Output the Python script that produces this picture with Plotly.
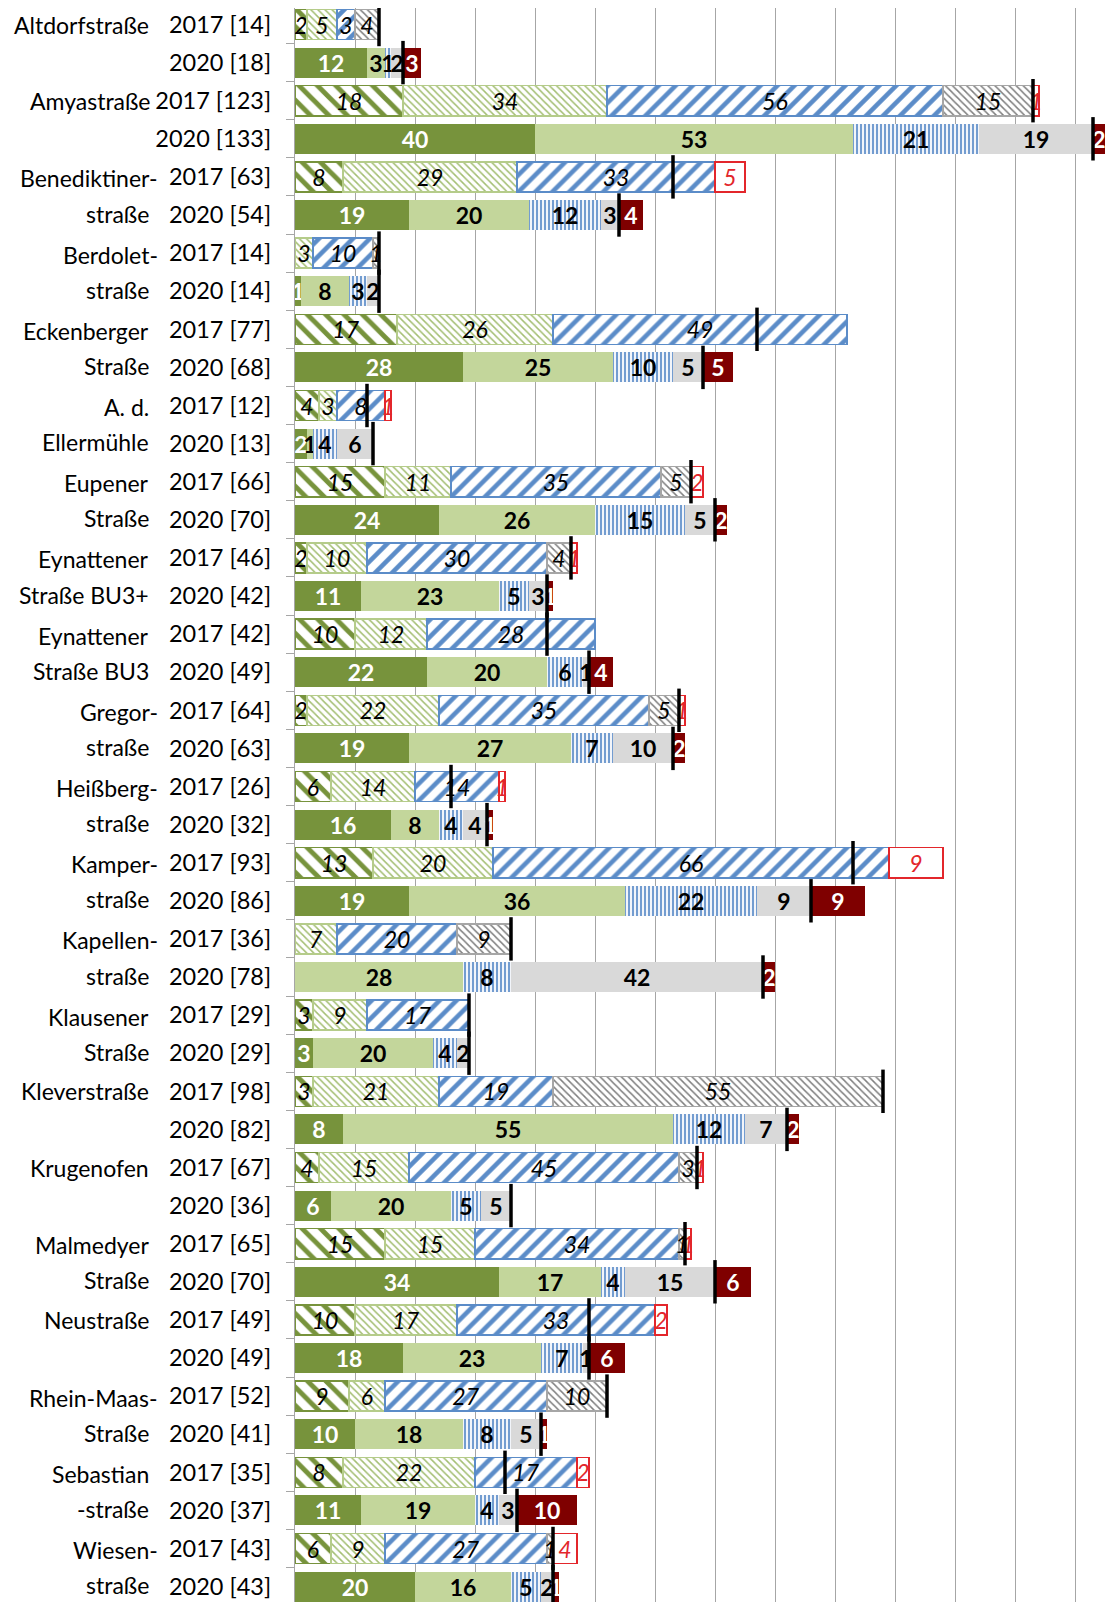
import plotly.graph_objects as go

# ---------------- data ----------------
streets = [
    "Altdorfstraße", "Amyastraße", "Benediktiner-\nstraße", "Berdolet-\nstraße",
    "Eckenberger\nStraße", "A. d.\nEllermühle", "Eupener\nStraße",
    "Eynattener\nStraße BU3+", "Eynattener\nStraße BU3", "Gregor-\nstraße",
    "Heißberg-\nstraße", "Kamper-\nstraße", "Kapellen-\nstraße", "Klausener\nStraße",
    "Kleverstraße", "Krugenofen", "Malmedyer\nStraße", "Neustraße",
    "Rhein-Maas-\nStraße", "Sebastian\n-straße", "Wiesen-\nstraße",
]
n2017 = [14, 123, 63, 14, 77, 12, 66, 46, 42, 64, 26, 93, 36, 29, 98, 67, 65, 49, 52, 35, 43]
n2020 = [18, 133, 54, 14, 68, 13, 70, 42, 49, 63, 32, 86, 78, 29, 82, 36, 70, 49, 41, 37, 43]

c1_2017 = [2, 18, 8, 0, 17, 4, 15, 2, 10, 2, 6, 13, 0, 3, 3, 4, 15, 10, 9, 8, 6]
c2_2017 = [5, 34, 29, 3, 26, 3, 11, 10, 12, 22, 14, 20, 7, 9, 21, 15, 15, 17, 6, 22, 9]
c3_2017 = [3, 56, 33, 10, 49, 8, 35, 30, 28, 35, 14, 66, 20, 17, 19, 45, 34, 33, 27, 17, 27]
c4_2017 = [4, 15, 0, 1, 0, 0, 5, 4, 0, 5, 0, 0, 9, 0, 55, 3, 1, 0, 10, 0, 1]
c5_2017 = [0, 1, 5, 0, 0, 1, 2, 1, 0, 1, 1, 9, 0, 0, 0, 1, 1, 2, 0, 2, 4]

c1_2020 = [12, 40, 19, 1, 28, 2, 24, 11, 22, 19, 16, 19, 0, 3, 8, 6, 34, 18, 10, 11, 20]
c2_2020 = [3, 53, 20, 8, 25, 1, 26, 23, 20, 27, 8, 36, 28, 20, 55, 20, 17, 23, 18, 19, 16]
c3_2020 = [1, 21, 12, 3, 10, 4, 15, 5, 6, 7, 4, 22, 8, 4, 12, 5, 4, 7, 8, 4, 5]
c4_2020 = [2, 19, 3, 2, 5, 6, 5, 3, 1, 10, 4, 9, 42, 2, 7, 5, 15, 1, 5, 3, 2]
c5_2020 = [3, 2, 4, 0, 5, 0, 2, 1, 4, 2, 1, 9, 2, 0, 2, 0, 6, 6, 1, 10, 1]

series_2017 = [c1_2017, c2_2017, c3_2017, c4_2017, c5_2017]
series_2020 = [c1_2020, c2_2020, c3_2020, c4_2020, c5_2020]

# ---------------- styles ----------------
FONT = "Lato"
DKGREEN = "#77933C"
LTGREEN = "#C3D69B"
GRAY = "#D9D9D9"
DKRED = "#7F0000"
RED = "#E3262B"
GRID = "#A6A6A6"

style_2017 = [
    dict(shape="\\", fg=DKGREEN, size=13, sol=0.38, line=DKGREEN, txt="black"),
    dict(shape="\\", fg="#A3BE72", size=5, sol=0.3, line="#B5CC8A", txt="black"),
    dict(shape="/", fg="#5B8CC8", size=12, sol=0.38, line="#5B8CC8", txt="black"),
    dict(shape="\\", fg="#7F7F7F", size=5, sol=0.3, line="#A6A6A6", txt="black"),
    dict(shape="", fg=RED, size=5, sol=0.3, line=RED, txt=RED),
]
style_2020 = [
    dict(color=DKGREEN, txt="white", pattern=None),
    dict(color=LTGREEN, txt="black", pattern=None),
    dict(color="#EEF3F9", txt="black",
         pattern=dict(shape="|", fgcolor="#5B8CC8", bgcolor="#F2F5FA", size=4, solidity=0.42)),
    dict(color=GRAY, txt="black", pattern=None),
    dict(color=DKRED, txt="white", pattern=None),
]

ns = len(streets)
y17 = [2 * i for i in range(ns)]
y20 = [2 * i + 1 for i in range(ns)]
BARW = 0.79
LBL = 23

fig = go.Figure()

for vals, st in zip(series_2017, style_2017):
    pat = dict(shape=st["shape"], fgcolor=st["fg"], bgcolor="white",
               size=st["size"], solidity=st["sol"], fillmode="replace")
    fig.add_trace(go.Bar(
        x=[v if v else None for v in vals], y=y17, orientation="h", width=BARW,
        marker=dict(color="white", line=dict(color=st["line"], width=1.5), pattern=pat),
        text=[f"<i>{v}</i>" if v else "" for v in vals],
        textposition="inside", insidetextanchor="middle", textangle=0,
        insidetextfont=dict(family=FONT, size=LBL, color=st["txt"]),
        hoverinfo="skip", showlegend=False,
    ))

for vals, st in zip(series_2020, style_2020):
    mk = dict(color=st["color"], line=dict(width=0))
    if st["pattern"]:
        p = dict(st["pattern"])
        p["fillmode"] = "replace"
        mk["pattern"] = p
    fig.add_trace(go.Bar(
        x=[v if v else None for v in vals], y=y20, orientation="h", width=BARW,
        marker=mk,
        text=[f"<b>{v}</b>" if v else "" for v in vals],
        textposition="inside", insidetextanchor="middle", textangle=0,
        insidetextfont=dict(family=FONT, size=LBL, color=st["txt"]),
        hoverinfo="skip", showlegend=False,
    ))

# N markers (black vertical lines); line-ns length = 1.4 * size
fig.add_trace(go.Scatter(
    x=n2017 + n2020, y=y17 + y20, mode="markers",
    marker=dict(symbol="line-ns", size=31, line=dict(color="black", width=3.5)),
    hoverinfo="skip", showlegend=False,
))

# y tick labels: "2017 [N]" / "2020 [N]"
tickvals, ticktext = [], []
for i in range(ns):
    tickvals += [y17[i], y20[i]]
    ticktext += [f"2017 [{n2017[i]}]", f"2020 [{n2020[i]}]"]

# the page body has an 8px default margin -> figure is offset by 8px
OFF = 8
FIG_W, FIG_H = 1117 - OFF, 1602 - OFF
L = 295 - OFF
W = FIG_W - L
name_x = (151 - 295) / W
annotations = []


def name_ann(text, y, yshift):
    xs = 9 if text.endswith("-") else 0
    if text == "Amyastraße":
        xs = 2
    return dict(x=name_x, y=y, xref="paper", yref="y", text=text, xshift=xs,
                xanchor="right", yanchor="middle", showarrow=False, yshift=yshift,
                font=dict(family=FONT, size=23, color="black"))


for i, name in enumerate(streets):
    lines = name.split("\n")
    if len(lines) == 1:
        annotations.append(name_ann(lines[0], y17[i], 0))
    else:
        annotations.append(name_ann(lines[0], y17[i], -1.5))
        annotations.append(name_ann(lines[1], y20[i], 1.5))

PITCH = 38.1
top_units = -(24.5 - OFF) / PITCH          # row 0 centred at y = 24.5 px of the page
bottom_units = top_units + FIG_H / PITCH

fig.update_layout(
    width=FIG_W, height=FIG_H,
    margin=dict(l=L, r=0, t=0, b=0, pad=0),
    plot_bgcolor="white", paper_bgcolor="white",
    barmode="stack", bargap=0.2,
    uniformtext=dict(minsize=LBL, mode="show"),
    showlegend=False,
    annotations=annotations,
    xaxis=dict(range=[0, W / 6.0], tick0=0, dtick=10, showgrid=True, gridcolor=GRID,
               gridwidth=1.3, showticklabels=False, zeroline=False, ticks="",
               automargin=False),
    yaxis=dict(range=[bottom_units, top_units], tickmode="array", tickvals=tickvals,
               ticktext=ticktext, ticks="", ticklabelstandoff=18, automargin=False,
               tickfont=dict(family=FONT, size=23.5, color="black"),
               showline=True, linecolor=GRID, linewidth=1.3, showgrid=False, zeroline=False,
               minor=dict(tickmode="array", tickvals=[i + 0.5 for i in range(-1, 2 * ns)],
                          ticks="outside", ticklen=8, tickcolor=GRID, tickwidth=1.3,
                          showgrid=False)),
)

fig.write_html("out.html")
